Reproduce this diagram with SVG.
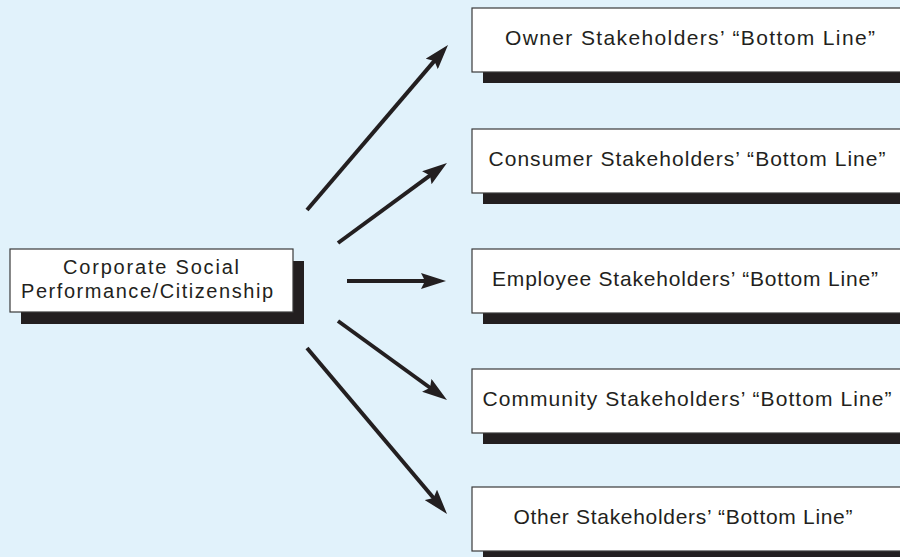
<svg xmlns="http://www.w3.org/2000/svg" width="900" height="557" viewBox="0 0 900 557">
  <defs>
    <marker id="ah" markerUnits="userSpaceOnUse" markerWidth="25" markerHeight="16" viewBox="0 0 25 16" refX="13" refY="8" orient="auto">
      <path d="M0,0 L25,8 L0,16 L4,8 Z" fill="#231f20"/>
    </marker>
  </defs>
  <style>
    .shadow { fill: #231f20; }
    .box { fill: #ffffff; stroke: #3a3a3a; stroke-width: 1.2; }
    .lbl { font-family: "Liberation Sans", Arial, sans-serif; font-size: 21px; fill: #231f20; text-anchor: middle; }
    .sm { font-size: 20px; }
    .conn { stroke: #231f20; stroke-width: 4; fill: none; marker-end: url(#ah); }
  </style>
  <rect x="0" y="0" width="900" height="557" fill="#e1f2fb"/>

  <g id="csp">
    <rect class="shadow" x="21" y="261" width="283" height="63"/>
    <rect class="box" x="10" y="249" width="283" height="63"/>
    <text class="lbl sm" x="151" y="274" textLength="176" lengthAdjust="spacing">Corporate Social</text>
    <text class="lbl sm" x="147" y="298" textLength="252" lengthAdjust="spacing">Performance/Citizenship</text>
  </g>

  <g id="owner">
    <rect class="shadow" x="483" y="19" width="440" height="64"/>
    <rect class="box" x="472" y="8" width="440" height="64"/>
    <text class="lbl" x="690" y="45" textLength="370" lengthAdjust="spacing">Owner Stakeholders’ “Bottom Line”</text>
  </g>

  <g id="consumer">
    <rect class="shadow" x="483" y="140" width="440" height="64"/>
    <rect class="box" x="472" y="129" width="440" height="64"/>
    <text class="lbl" x="687" y="166" textLength="397" lengthAdjust="spacing">Consumer Stakeholders’ “Bottom Line”</text>
  </g>

  <g id="employee">
    <rect class="shadow" x="483" y="260" width="440" height="64"/>
    <rect class="box" x="472" y="249" width="440" height="64"/>
    <text class="lbl" x="685" y="286" textLength="386" lengthAdjust="spacing">Employee Stakeholders’ “Bottom Line”</text>
  </g>

  <g id="community">
    <rect class="shadow" x="483" y="380" width="440" height="64"/>
    <rect class="box" x="472" y="369" width="440" height="64"/>
    <text class="lbl" x="687" y="406" textLength="409" lengthAdjust="spacing">Community Stakeholders’ “Bottom Line”</text>
  </g>

  <g id="other">
    <rect class="shadow" x="483" y="498" width="440" height="64"/>
    <rect class="box" x="472" y="487" width="440" height="64"/>
    <text class="lbl" x="683" y="524" textLength="339" lengthAdjust="spacing">Other Stakeholders’ “Bottom Line”</text>
  </g>

  <g id="connectors">
    <line class="conn" x1="307" y1="210" x2="440.2" y2="54.1"/>
    <line class="conn" x1="338" y1="243" x2="437.3" y2="170.1"/>
    <line class="conn" x1="347" y1="281" x2="434" y2="281"/>
    <line class="conn" x1="338" y1="321" x2="437.3" y2="393"/>
    <line class="conn" x1="307" y1="348" x2="439.3" y2="504.8"/>
  </g>
</svg>
